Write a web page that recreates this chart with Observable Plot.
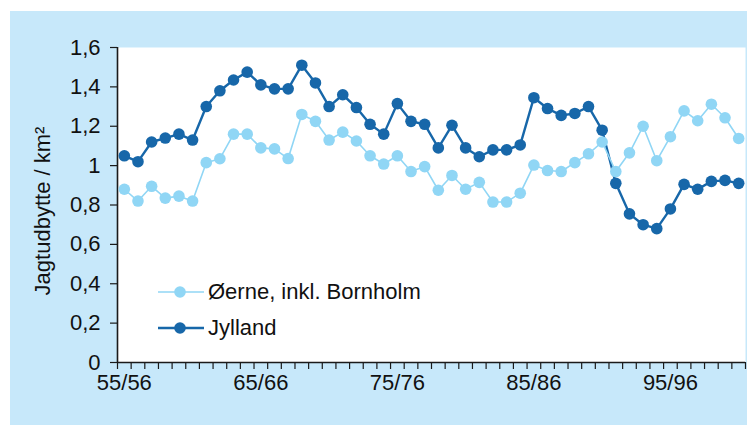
<!DOCTYPE html>
<html>
<head>
<meta charset="utf-8">
<script src="https://cdn.jsdelivr.net/npm/d3@7"></script>
<script src="https://cdn.jsdelivr.net/npm/@observablehq/plot@0.6"></script>
<style>
  html, body { margin: 0; padding: 0; background: #ffffff; }
  #panel { position: absolute; left: 10px; top: 11px; width: 737px; height: 414px; background: #c7e8fa;
           font-family: "Liberation Sans", Arial, Helvetica, sans-serif; }
  #panel svg.chart { position: absolute; left: 0; top: 0; }
  .lg { position: absolute; left: 148px; height: 24px; line-height: 24px; display: flex; align-items: center;
        font-size: 22px; color: #111; white-space: nowrap; }
  .lg svg { display: block; margin-right: 4px; }
</style>
</head>
<body>
<div id="panel"></div>
<script>
// ---- data ----
const seasons = ["55/56","56/57","57/58","58/59","59/60","60/61","61/62","62/63","63/64","64/65",
                 "65/66","66/67","67/68","68/69","69/70","70/71","71/72","72/73","73/74","74/75",
                 "75/76","76/77","77/78","78/79","79/80","80/81","81/82","82/83","83/84","84/85",
                 "85/86","86/87","87/88","88/89","89/90","90/91","91/92","92/93","93/94","94/95",
                 "95/96","96/97","97/98","98/99","99/00","00/01"];
const jylland = [1.05,1.02,1.12,1.14,1.16,1.13,1.30,1.38,1.435,1.475,
                 1.41,1.39,1.39,1.51,1.42,1.30,1.36,1.295,1.21,1.16,
                 1.315,1.225,1.21,1.09,1.205,1.09,1.045,1.08,1.08,1.105,
                 1.345,1.29,1.255,1.265,1.30,1.18,0.91,0.755,0.70,0.68,
                 0.78,0.905,0.88,0.92,0.925,0.91];
const oerne   = [0.88,0.82,0.895,0.835,0.845,0.82,1.015,1.035,1.16,1.16,
                 1.09,1.085,1.036,1.26,1.225,1.13,1.17,1.125,1.05,1.008,
                 1.05,0.97,0.995,0.875,0.95,0.88,0.915,0.815,0.815,0.86,
                 1.003,0.975,0.97,1.015,1.06,1.12,0.97,1.065,1.20,1.025,
                 1.147,1.278,1.228,1.312,1.243,1.138];
const seriesNames = ["Øerne, inkl. Bornholm", "Jylland"];
const yTicks = [0, 0.2, 0.4, 0.6, 0.8, 1, 1.2, 1.4, 1.6];
const yTickLabels = ["0","0,2","0,4","0,6","0,8","1","1,2","1,4","1,6"];
const xLabelTicks = ["55/56","65/66","75/76","85/86","95/96"];
const yTitle = "Jagtudbytte / km²";

const colors = {oerne: "#90d6f5", jylland: "#1767a9", axis: "#1a1a1a"};

// ---- derived tables ----
const rowsJ = seasons.map((s, i) => ({i, season: s, v: jylland[i]}));
const rowsO = seasons.map((s, i) => ({i, season: s, v: oerne[i]}));
const boundaries = seasons.map((_, i) => i - 0.5).concat([seasons.length - 0.5]);
const labelIdx = xLabelTicks.map(l => seasons.indexOf(l));

const chart = Plot.plot({
  width: 737,
  height: 414,
  marginLeft: 107,
  marginTop: 36,
  marginRight: 2,
  marginBottom: 63,
  style: {background: "transparent", fontFamily: "'Liberation Sans', Arial, Helvetica, sans-serif", fontSize: "22px", color: "#111", overflow: "visible"},
  x: {type: "linear", domain: [-0.5, seasons.length - 0.5], axis: null},
  y: {domain: [0, 1.6], axis: null},
  marks: [
    Plot.frame({fill: "#ffffff", stroke: null}),
    // x axis boundary ticks
    Plot.axisX({ticks: boundaries, tickFormat: () => "", tickSize: 7, stroke: colors.axis, strokeWidth: 1.2, label: null}),
    // x labels
    Plot.axisX({ticks: labelIdx, tickFormat: i => seasons[i], tickSize: 0, tickPadding: 12, fill: "#111", label: null}),
    // y axis
    Plot.axisY({ticks: yTicks, tickFormat: (d) => yTickLabels[yTicks.indexOf(d)], tickSize: 7, tickPadding: 10,
                stroke: colors.axis, strokeWidth: 1.2, fill: "#111", label: null}),
    Plot.text([yTitle], {text: d => d, frameAnchor: "left", textAnchor: "middle", rotate: -90, dx: -75, dy: 6, fill: "#111"}),
    Plot.ruleX([-0.5], {stroke: colors.axis, strokeWidth: 1.6}),
    Plot.ruleY([0], {stroke: colors.axis, strokeWidth: 1.6}),
    // Jylland
    Plot.line(rowsJ, {x: "i", y: "v", stroke: colors.jylland, strokeWidth: 2.4}),
    Plot.dot(rowsJ, {x: "i", y: "v", r: 5.8, fill: colors.jylland, stroke: null}),
    // Øerne
    Plot.line(rowsO, {x: "i", y: "v", stroke: colors.oerne, strokeWidth: 1.6}),
    Plot.dot(rowsO, {x: "i", y: "v", r: 5.8, fill: colors.oerne, stroke: null})
  ]
});
chart.classList.add("chart");
const panel = document.getElementById("panel");
panel.appendChild(chart);

// ---- legend (inside plot area) ----
const legendItems = [
  {name: seriesNames[0], color: colors.oerne, w: 1.6, top: 269},
  {name: seriesNames[1], color: colors.jylland, w: 2.4, top: 305}
];
for (const it of legendItems) {
  const row = document.createElement("div");
  row.className = "lg";
  row.style.top = it.top + "px";
  row.innerHTML = `<svg width="46" height="14"><line x1="0" x2="46" y1="7" y2="7" stroke="${it.color}" stroke-width="${it.w}"/><circle cx="22" cy="7" r="5.8" fill="${it.color}"/></svg><span></span>`;
  row.querySelector("span").textContent = it.name;
  panel.appendChild(row);
}
</script>
</body>
</html>
